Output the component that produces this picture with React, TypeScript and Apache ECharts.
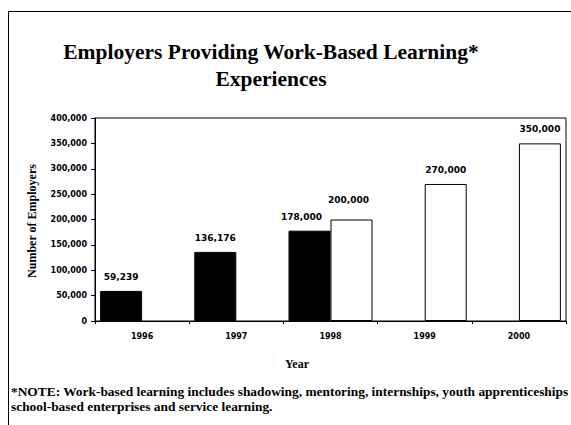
import React, { useEffect, useRef } from "react";
import * as echarts from "echarts";

const years = ["1996", "1997", "1998", "1999", "2000"];
const actual: (number | string)[] = [59239, 136176, 178000, "-", "-"];
const projected: (number | string)[] = ["-", "-", 200000, 270000, 350000];
const yTicks = { min: 0, max: 400000, interval: 50000 };

const fmt = (v: number) => v.toLocaleString("en-US");

export default function App() {
  const ref = useRef<HTMLDivElement>(null);
  useEffect(() => {
    const chart = echarts.init(ref.current!, null, { renderer: "svg" });
    const labelStyle = {
      show: true,
      position: "top" as const,
      distance: 9.5,
      fontFamily: "DejaVu Sans",
      fontWeight: "bold" as const,
      fontSize: 9,
      color: "#000",
      formatter: (p: any) => fmt(p.value),
    };
    const both = (i: number) => actual[i] !== "-" && projected[i] !== "-";
    // labels of a year that has both bars are staggered so they do not collide
    const actualData = actual.map((v, i) =>
      both(i) ? { value: v, label: { offset: [-8, 0] } } : v
    );
    const projectedData = projected.map((v, i) =>
      both(i) ? { value: v, label: { offset: [-3, -6] } } : v
    );
    const textStyle = (size: number) => ({
      fontFamily: "Liberation Serif",
      fontWeight: "bold",
      fontSize: size,
      fill: "#000",
    });
    chart.setOption({
      animation: false,
      backgroundColor: "#fff",
      grid: {
        left: 95,
        right: 5,
        top: 118,
        bottom: 104,
        show: true,
        borderColor: "#000",
        borderWidth: 1,
        backgroundColor: "transparent",
      },
      xAxis: {
        type: "category",
        data: years,
        axisLine: { lineStyle: { color: "#000", width: 1 } },
        axisTick: { show: true, length: 3, lineStyle: { color: "#000" } },
        axisLabel: {
          fontFamily: "DejaVu Sans",
          fontWeight: "bold",
          fontSize: 8,
          color: "#000",
          margin: 11,
        },
        splitLine: { show: false },
      },
      yAxis: {
        type: "value",
        min: yTicks.min,
        max: yTicks.max,
        interval: yTicks.interval,
        axisLine: { show: true, lineStyle: { color: "#000", width: 1 } },
        axisTick: { show: true, length: 4, lineStyle: { color: "#000" } },
        axisLabel: {
          fontFamily: "DejaVu Sans",
          fontWeight: "bold",
          fontSize: 8,
          color: "#000",
          margin: 8,
          formatter: (v: number) => fmt(v),
        },
        splitLine: { show: false },
      },
      series: [
        {
          name: "Actual",
          type: "bar",
          data: actualData,
          barWidth: 42,
          barGap: "0%",
          itemStyle: { color: "#000", borderColor: "#000", borderWidth: 1 },
          label: labelStyle,
        },
        {
          name: "Projected",
          type: "bar",
          data: projectedData,
          barWidth: 42,
          barGap: "0%",
          itemStyle: { color: "#fff", borderColor: "#000", borderWidth: 1 },
          label: labelStyle,
        },
      ],
      graphic: [
        {
          type: "line",
          shape: { x1: 8.5, y1: 11.5, x2: 571, y2: 11.5 },
          style: { stroke: "#000", lineWidth: 1 },
        },
        {
          type: "line",
          shape: { x1: 8.5, y1: 11.5, x2: 8.5, y2: 425 },
          style: { stroke: "#000", lineWidth: 1 },
        },
        {
          type: "text",
          x: 271,
          y: 52,
          style: {
            text: "Employers Providing Work-Based Learning*",
            ...textStyle(21.5),
            align: "center",
            verticalAlign: "middle",
          },
        },
        {
          type: "text",
          x: 271,
          y: 79,
          style: {
            text: "Experiences",
            ...textStyle(21.5),
            align: "center",
            verticalAlign: "middle",
          },
        },
        {
          type: "text",
          x: 32,
          y: 221,
          rotation: Math.PI / 2,
          style: {
            text: "Number of Employers",
            ...textStyle(12),
            align: "center",
            verticalAlign: "middle",
          },
        },
        {
          type: "text",
          x: 297,
          y: 364,
          style: {
            text: "Year",
            ...textStyle(12),
            align: "center",
            verticalAlign: "middle",
          },
        },
        {
          type: "text",
          x: 11,
          y: 391,
          style: {
            text: "*NOTE: Work-based learning includes shadowing, mentoring, internships, youth apprenticeships",
            ...textStyle(13.4),
            align: "left",
            verticalAlign: "middle",
          },
        },
        {
          type: "text",
          x: 11,
          y: 406,
          style: {
            text: "school-based enterprises and service learning.",
            ...textStyle(13.4),
            align: "left",
            verticalAlign: "middle",
          },
        },
      ],
    });
    return () => chart.dispose();
  }, []);
  return (
    <div
      ref={ref}
      style={{ position: "fixed", left: 0, top: 0, width: 571, height: 425 }}
    />
  );
}
